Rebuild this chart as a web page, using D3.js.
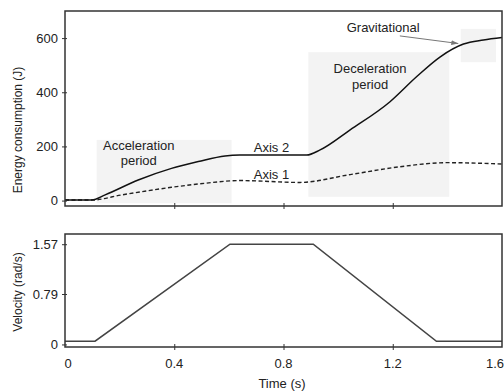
<!DOCTYPE html>
<html>
<head>
<meta charset="utf-8">
<script src="https://cdn.jsdelivr.net/npm/d3@7"></script>
<style>
  body { margin: 0; background: #fff; }
  text { font-family: "Liberation Sans", Arial, sans-serif; fill: #222; }
</style>
</head>
<body>
<svg id="chart" width="504" height="392"></svg>
<script>
// energy, axis 2 (solid)
var axis2Time   = [0, 0.098, 0.147, 0.268, 0.39, 0.488, 0.586, 0.64, 0.885, 0.934, 1.044, 1.19, 1.288, 1.374, 1.459, 1.532, 1.6];
var axis2Energy = [2, 2, 21, 76, 119, 144, 165, 168, 168, 187, 261, 365, 458, 531, 578, 593, 602];
// energy, axis 1 (dashed)
var axis1Time   = [0, 0.098, 0.208, 0.39, 0.513, 0.64, 0.86, 1.044, 1.227, 1.398, 1.6];
var axis1Energy = [2, 2, 21, 49, 64, 74, 67, 96, 125, 140, 135];
// velocity profile
var velTime  = [0, 0.11, 0.604, 0.909, 1.36, 1.6];
var velValue = [0.05, 0.05, 1.57, 1.57, 0.05, 0.05];
// shaded periods: [t0, t1, e0, e1]
var periods = [
  {name: "accel", box: [0.116, 0.61, -10, 224]},
  {name: "decel", box: [0.891, 1.407, 14, 548]},
  {name: "grav",  box: [1.449, 1.578, 511, 634]}
];
var xTicks = [0, 0.4, 0.8, 1.2, 1.6];
var xTickLabels = ["0", "0.4", "0.8", "1.2", "1.6"];
var energyTicks = [0, 200, 400, 600];
var velTicks = [0, 0.79, 1.57];

var svg = d3.select("#chart");
var left = 65, right = 502;

var x = d3.scaleLinear().domain([0, 1.6]).range([left, right]);
var yE = d3.scaleLinear().domain([-20, 700]).range([206, 11]);
var yV = d3.scaleLinear().domain([-0.04, 1.73]).range([347, 234]);

// shaded boxes
svg.selectAll(".period").data(periods).enter()
  .append("rect")
  .attr("class", "period")
  .attr("x", function(d) { return x(d.box[0]); })
  .attr("y", function(d) { return yE(d.box[3]); })
  .attr("width", function(d) { return x(d.box[1]) - x(d.box[0]); })
  .attr("height", function(d) { return yE(d.box[2]) - yE(d.box[3]); })
  .attr("fill", "#f3f3f3");

function zip(ts, vs) { return ts.map(function(t, i) { return [t, vs[i]]; }); }

var lineE = d3.line()
  .x(function(d) { return x(d[0]); })
  .y(function(d) { return yE(d[1]); })
  .curve(d3.curveMonotoneX);

svg.append("path").datum(zip(axis1Time, axis1Energy))
  .attr("d", lineE).attr("fill", "none")
  .attr("stroke", "#222").attr("stroke-width", 1.4)
  .attr("stroke-dasharray", "4,2.5");

svg.append("path").datum(zip(axis2Time, axis2Energy))
  .attr("d", lineE).attr("fill", "none")
  .attr("stroke", "#111").attr("stroke-width", 1.5);

var lineV = d3.line()
  .x(function(d) { return x(d[0]); })
  .y(function(d) { return yV(d[1]); });

svg.append("path").datum(zip(velTime, velValue))
  .attr("d", lineV).attr("fill", "none")
  .attr("stroke", "#444").attr("stroke-width", 1.6);

// frames
function frame(y0, y1) {
  svg.append("rect")
    .attr("x", left).attr("y", y0)
    .attr("width", right - left).attr("height", y1 - y0)
    .attr("fill", "none").attr("stroke", "#333").attr("stroke-width", 1.5);
}
frame(yE.range()[1], yE.range()[0]);
frame(yV.range()[1], yV.range()[0]);

// axes, ticks crossing the frame
function xAxis(y0) {
  var g = svg.append("g").attr("transform", "translate(0," + y0 + ")");
  g.call(d3.axisBottom(x).tickValues([0.4, 0.8, 1.2]).tickSize(3).tickFormat(""));
  g.selectAll(".tick line").attr("y1", -3).attr("stroke", "#333");
  g.select(".domain").remove();
  return g;
}
xAxis(206);
xAxis(347);

svg.selectAll(".xlab").data(xTicks).enter()
  .append("text")
  .attr("class", "xlab")
  .attr("x", function(d, i) {
    if (i == 0) return x(d) + 3;
    if (i == xTicks.length - 1) return 504;
    return x(d);
  })
  .attr("y", 368)
  .attr("text-anchor", function(d, i) { return i == xTicks.length - 1 ? "end" : "middle"; })
  .attr("font-size", 13)
  .text(function(d, i) { return xTickLabels[i]; });

function yAxis(scale, ticks, fmt) {
  var g = svg.append("g").attr("transform", "translate(" + left + ",0)");
  g.call(d3.axisLeft(scale).tickValues(ticks).tickSize(3).tickPadding(4).tickFormat(fmt));
  g.selectAll(".tick line").attr("x1", 2).attr("stroke", "#333");
  g.select(".domain").remove();
  g.selectAll(".tick text").attr("font-size", 13)
    .attr("font-family", "Liberation Sans, Arial, sans-serif").attr("fill", "#222");
}
yAxis(yE, energyTicks, d3.format("d"));
yAxis(yV, velTicks, function(d) { return d == 0 ? "0" : d3.format(".2f")(d); });

// axis titles
svg.append("text")
  .attr("transform", "translate(22," + 130 + ") rotate(-90)")
  .attr("text-anchor", "middle").attr("font-size", 12)
  .text("Energy consumption (J)");
svg.append("text")
  .attr("transform", "translate(22," + 292 + ") rotate(-90)")
  .attr("text-anchor", "middle").attr("font-size", 12)
  .text("Velocity (rad/s)");
svg.append("text")
  .attr("x", 282).attr("y", 388)
  .attr("text-anchor", "middle").attr("font-size", 13)
  .text("Time (s)");

// annotations
function label(lines, t, e, anchor) {
  var tx = svg.append("text")
    .attr("x", x(t)).attr("y", yE(e))
    .attr("text-anchor", anchor || "middle")
    .attr("font-size", 13);
  lines.forEach(function(s, i) {
    tx.append("tspan").attr("x", x(t)).attr("dy", i == 0 ? 0 : 15.5).text(s);
  });
}
label(["Acceleration", "period"], 0.27, 188);
label(["Deceleration", "period"], 1.117, 471);
label(["Axis 2"], 0.756, 181);
label(["Axis 1"], 0.756, 81);
label(["Gravitational"], 1.165, 622);

// arrow to gravitational box
svg.append("defs").append("marker")
  .attr("id", "arrowhead")
  .attr("viewBox", "0 -5 10 10")
  .attr("refX", 10).attr("refY", 0)
  .attr("orient", "auto")
  .attr("markerWidth", 7).attr("markerHeight", 7)
  .append("path").attr("d", "M0,-3.5L10,0L0,3.5")
  .attr("fill", "#777");
svg.append("line")
  .attr("x1", x(1.226)).attr("y1", yE(608))
  .attr("x2", x(1.44)).attr("y2", yE(580))
  .attr("stroke", "#777").attr("stroke-width", 1)
  .attr("marker-end", "url(#arrowhead)");
</script>
</body>
</html>
